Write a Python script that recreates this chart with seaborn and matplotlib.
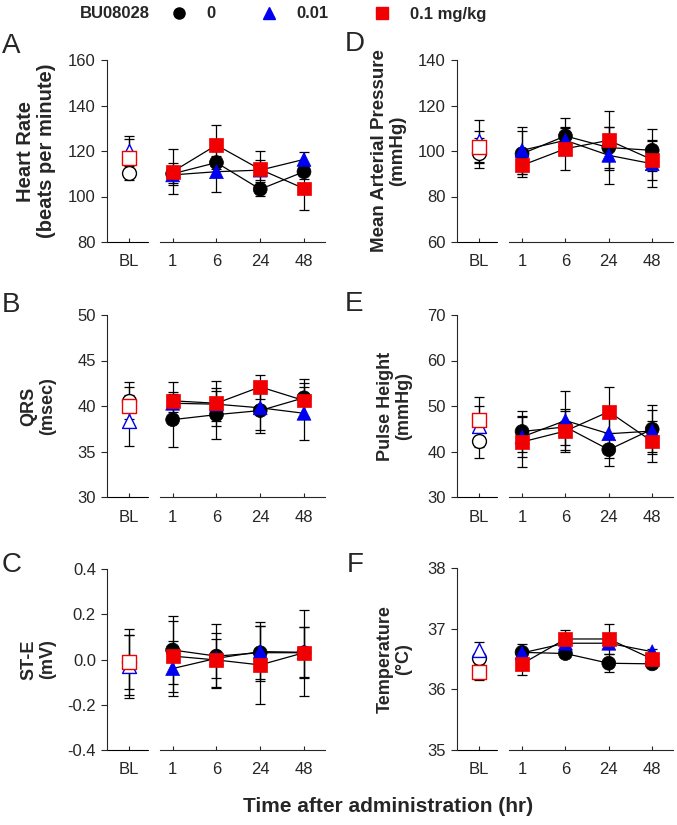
import numpy as np
import pandas as pd
import matplotlib
matplotlib.use("Agg")
import matplotlib.pyplot as plt
from matplotlib.lines import Line2D
from matplotlib.ticker import FormatStrFormatter
import seaborn as sns

# ---- data (rows = dose 0, 0.01, 0.1 mg/kg; cols = BL, 1, 6, 24, 48 h) ----
times = ["BL", "1", "6", "24", "48"]
doses = ["0", "0.01", "0.1 mg/kg"]
dose_colors = ["black", "#0000f0", "#f00000"]
dose_markers = ["o", "^", "s"]

hr_mean = [[110.5, 110.0, 114.9, 103.2, 110.9],
           [120.0, 109.5, 110.9, 111.6, 116.3],
           [116.8, 110.9, 122.6, 111.9, 103.5]]
hr_err = [[3.2, 4.9, 3.0, 3.0, 3.0],
          [6.6, 3.5, 8.9, 4.3, 3.1],
          [8.3, 10.0, 8.8, 8.1, 9.5]]

qrs_mean = [[40.6, 38.5, 39.05, 39.5, 40.9],
            [38.4, 40.3, 40.2, 39.8, 39.2],
            [40.0, 40.57, 40.3, 42.1, 40.6]]
qrs_err = [[2.0, 3.0, 2.65, 2.1, 2.1],
           [2.8, 1.0, 1.8, 2.8, 2.9],
           [2.1, 2.1, 2.5, 1.3, 1.9]]

ste_mean = [[-0.01, 0.042, 0.015, 0.030, 0.030],
            [-0.03, -0.040, 0.005, 0.035, 0.032],
            [-0.01, 0.015, -0.002, -0.024, 0.030]]
ste_err = [[0.145, 0.150, 0.142, 0.118, 0.190],
           [0.140, 0.120, 0.085, 0.132, 0.110],
           [0.120, 0.157, 0.118, 0.173, 0.112]]

map_mean = [[99.0, 98.8, 106.6, 101.5, 100.3],
            [104.5, 100.3, 104.7, 98.1, 94.4],
            [101.8, 93.7, 101.0, 104.7, 96.2]]
map_err = [[6.5, 10.2, 8.0, 9.0, 9.2],
           [9.3, 10.2, 6.0, 12.4, 10.2],
           [7.2, 4.0, 9.2, 13.0, 8.8]]

ph_mean = [[42.4, 44.4, 45.4, 40.4, 44.9],
           [45.5, 43.2, 46.8, 43.9, 44.5],
           [47.0, 42.1, 44.5, 48.75, 42.2]]
ph_err = [[3.9, 4.6, 4.0, 3.6, 5.4],
          [4.5, 4.5, 6.4, 5.4, 4.7],
          [5.0, 5.4, 4.5, 5.5, 4.6]]

temp_mean = [[36.52, 36.61, 36.59, 36.43, 36.42],
             [36.65, 36.60, 36.76, 36.76, 36.62],
             [36.28, 36.42, 36.83, 36.83, 36.50]]
temp_err = [[0.05, 0.06, 0.05, 0.15, 0.04],
            [0.13, 0.15, 0.05, 0.10, 0.05],
            [0.13, 0.18, 0.15, 0.25, 0.05]]


def to_frame(mean, err):
    rows = []
    for d, m, e in zip(doses, mean, err):
        for i, (t, v, s) in enumerate(zip(times, m, e)):
            rows.append({"pos": i, "time": t, "dose": d, "value": v, "sem": s})
    return pd.DataFrame(rows)


def draw_panel(ax, mean, err, ylim, step, fmt, ylabel, label_x, label_size):
    df = to_frame(mean, err)
    post = df[df["pos"] > 0]
    base = df[df["pos"] == 0]

    ax.errorbar(df["pos"], df["value"], yerr=df["sem"], fmt="none",
                ecolor="black", elinewidth=0.9, capsize=3.5, capthick=0.9,
                zorder=2)
    sns.lineplot(data=post, x="pos", y="value", units="dose", estimator=None,
                 color="black", lw=0.9, ax=ax, zorder=3, legend=False)
    sns.scatterplot(data=post, x="pos", y="value", hue="dose", style="dose",
                    palette=dict(zip(doses, dose_colors)),
                    markers=dict(zip(doses, dose_markers)),
                    s=100, edgecolor="face", linewidth=0.5, ax=ax, zorder=4,
                    legend=False)
    for d, c, m in zip(doses, dose_colors, dose_markers):
        sns.scatterplot(data=base[base["dose"] == d], x="pos", y="value",
                        marker=m, color="white", edgecolor=c, linewidth=1.0,
                        s=100, ax=ax, zorder=4, legend=False)

    ax.set_xlim(-0.5, 4.48)
    ax.set_ylim(*ylim)
    ax.set_yticks(np.arange(ylim[0], ylim[1] + step / 2, step))
    ax.yaxis.set_major_formatter(FormatStrFormatter(fmt))
    ax.set_xticks(range(len(times)))
    ax.set_xticklabels(times)
    ax.set_xlabel("")
    ax.set_ylabel(ylabel, fontsize=label_size, fontweight="bold",
                  linespacing=1.1)
    ax.yaxis.set_label_coords(label_x, 0.5)
    ax.tick_params(axis="y", direction="out", length=4, width=0.8,
                   labelsize=12, pad=4)
    ax.tick_params(axis="x", direction="in", length=3, width=0.8,
                   labelsize=12, pad=9)

    # broken x axis: short piece under BL, long piece under the time points
    sns.despine(ax=ax)
    for sp in ("left", "bottom"):
        ax.spines[sp].set_linewidth(0.8)
    ax.spines["bottom"].set_bounds(0.7, 4.48)
    ax.plot([-0.5, 0.43], [0, 0], transform=ax.get_xaxis_transform(),
            color="black", lw=0.8, clip_on=False)


sns.set_theme(style="ticks")
plt.rcParams["font.family"] = ["Liberation Sans", "DejaVu Sans"]
plt.rcParams["axes.unicode_minus"] = False

W, H = 677, 825
fig = plt.figure(figsize=(W / 100, H / 100), dpi=100)


def add_ax(left, top, width, height):
    return fig.add_axes([left / W, 1 - (top + height) / H, width / W, height / H])


axA = add_ax(107, 60, 218, 182)
axB = add_ax(107, 315, 218, 182)
axC = add_ax(107, 569, 218, 181)
axD = add_ax(457, 60, 216, 182)
axE = add_ax(457, 315, 216, 182)
axF = add_ax(457, 568, 216, 182)

draw_panel(axA, hr_mean, hr_err, (80, 160), 20, "%d",
           "Heart Rate\n(beats per minute)", -0.234, 14.5)
draw_panel(axB, qrs_mean, qrs_err, (30, 50), 5, "%d",
           "QRS\n(msec)", -0.234, 13)
draw_panel(axC, ste_mean, ste_err, (-0.4, 0.4), 0.2, "%.1f",
           "ST-E\n(mV)", -0.234, 13)
draw_panel(axD, map_mean, map_err, (60, 140), 20, "%d",
           "Mean Arterial Pressure\n(mmHg)", -0.236, 13.5)
draw_panel(axE, ph_mean, ph_err, (30, 70), 10, "%d",
           "Pulse Height\n(mmHg)", -0.208, 13)
draw_panel(axF, temp_mean, temp_err, (35, 38), 1, "%d",
           "Temperature\n(\u00b0C)", -0.208, 13)

# panel letters
for letter, x, y in [("A", 2, 46), ("B", 2, 305), ("C", 2, 565),
                     ("D", 345, 44), ("E", 345, 304), ("F", 347, 565)]:
    fig.text(x / W, 1 - y / H, letter, fontsize=20, ha="left", va="center")

# legend row at the top
fig.text(80 / W, 1 - 14 / H, "BU08028", fontsize=12, fontweight="bold",
         ha="left", va="center")
handles = [Line2D([], [], marker=m, color=c, linestyle="none", markersize=8)
           for c, m in zip(dose_colors, dose_markers)]
fig.legend(handles, doses, loc="center left", ncol=3, frameon=False,
           bbox_to_anchor=(171 / W, 1 - 14 / H), borderpad=0,
           borderaxespad=0, handlelength=1.0, handletextpad=1.15,
           columnspacing=2.7, prop={"size": 12, "weight": "bold"})

fig.text(388 / W, 1 - 806 / H, "Time after administration (hr)",
         fontsize=15, fontweight="bold", ha="center", va="center")

fig.savefig("out.png", dpi=100)
